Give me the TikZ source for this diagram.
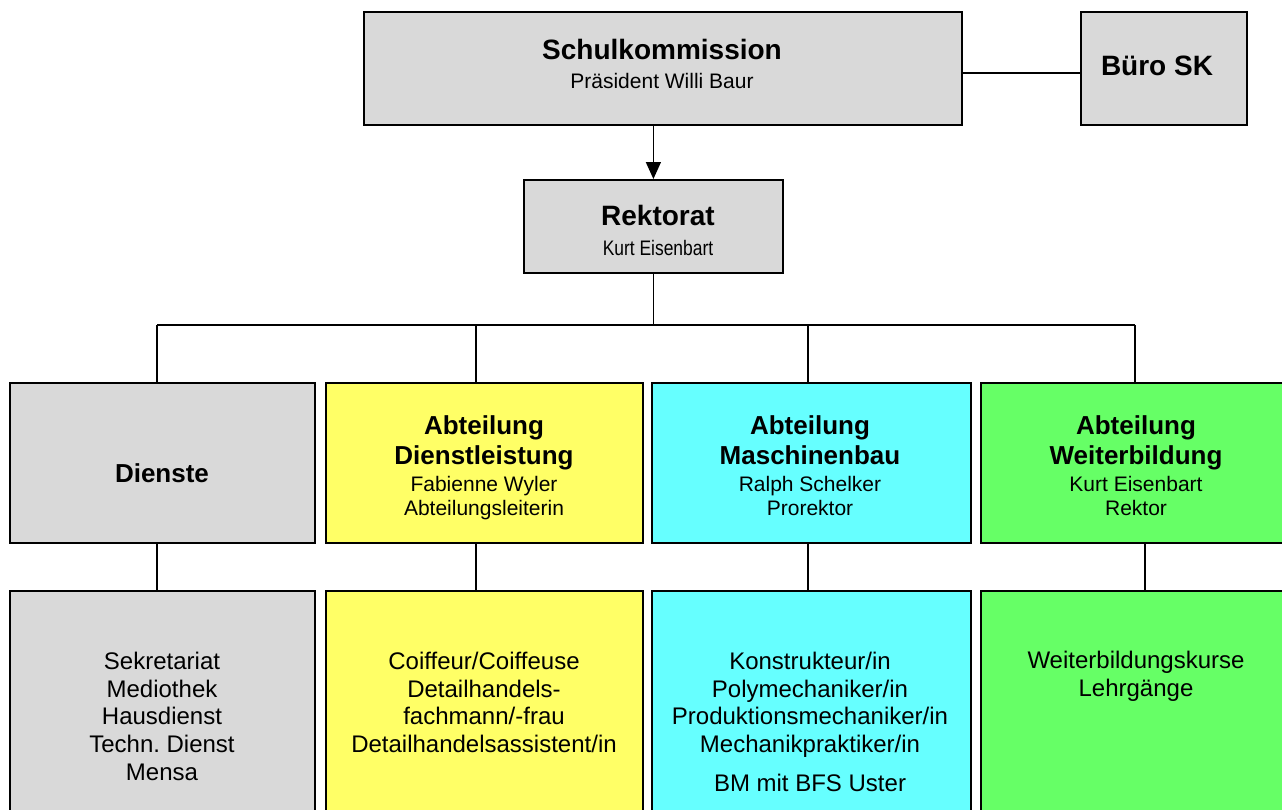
\documentclass[tikz,border=0pt]{standalone}
\usepackage{fontspec}
\setmainfont{Liberation Sans}
\newfontfamily\narrowsans[FakeStretch=0.83]{Liberation Sans}
\usetikzlibrary{arrows.meta}
\definecolor{boxgray}{HTML}{D9D9D9}
\definecolor{boxyellow}{HTML}{FFFF66}
\definecolor{boxcyan}{HTML}{66FFFF}
\definecolor{boxgreen}{HTML}{66FF66}
\begin{document}
\begin{tikzpicture}[x=1pt,y=-1pt,
  box/.style={draw=black,line width=1.8pt,inner sep=0pt,anchor=north west},
  link/.style={line width=1.5pt,black},
  txt/.style={anchor=base,inner sep=0pt,align=center},
  topbold/.style={txt,font=\fontsize{28}{30}\selectfont\bfseries},
  topreg/.style={txt,font=\fontsize{21}{23}\selectfont},
  narrowreg/.style={txt,font=\fontsize{21}{23}\selectfont\narrowsans},
  midbold/.style={txt,font=\fontsize{26}{28}\selectfont\bfseries},
  midreg/.style={txt,font=\fontsize{21}{23}\selectfont},
  lowreg/.style={txt,font=\fontsize{24}{26}\selectfont}]
\useasboundingbox (0,0) rectangle (1282,809);
\clip (0,0) rectangle (1282,809);
\fill[white] (0,0) rectangle (1282,809);

% top boxes
\node[box,fill=boxgray,minimum width=598pt,minimum height=113pt] (sk) at (363,11) {};
\node[box,fill=boxgray,minimum width=166pt,minimum height=113pt] (buero) at (1080,11) {};
\node[box,fill=boxgray,minimum width=259pt,minimum height=93pt] (rek) at (523,179) {};

% middle row
\node[box,fill=boxgray,minimum width=305pt,minimum height=160pt] (dienste) at (9,382) {};
\node[box,fill=boxyellow,minimum width=317pt,minimum height=160pt] (dl) at (325,382) {};
\node[box,fill=boxcyan,minimum width=319pt,minimum height=160pt] (mb) at (651,382) {};
\node[box,fill=boxgreen,minimum width=311pt,minimum height=160pt] (wb) at (980,382) {};

% bottom row
\node[box,fill=boxgray,minimum width=305pt,minimum height=240pt] (dienste2) at (9,590) {};
\node[box,fill=boxyellow,minimum width=317pt,minimum height=240pt] (dl2) at (325,590) {};
\node[box,fill=boxcyan,minimum width=319pt,minimum height=240pt] (mb2) at (651,590) {};
\node[box,fill=boxgreen,minimum width=311pt,minimum height=240pt] (wb2) at (980,590) {};

% connectors
\coordinate (skline) at (0,73);
\draw[link] (sk.east |- skline) -- (buero.west |- skline);
\draw[link,-{Triangle[width=15pt,length=17pt]}] (sk.south -| rek.north) -- (rek.north);
\coordinate (c1) at (157,325);
\coordinate (c2) at (476,325);
\coordinate (c3) at (808,325);
\coordinate (c4) at (1135,325);
\draw[link] (rek.south) -- (rek.south |- c1);
\draw[link] (c1) -- (c4);
\draw[link] (c1) -- (c1 |- dienste.north);
\draw[link] (c2) -- (c2 |- dl.north);
\draw[link] (c3) -- (c3 |- mb.north);
\draw[link] (c4) -- (c4 |- wb.north);
\coordinate (d1) at (157,566);
\coordinate (d2) at (476,566);
\coordinate (d3) at (808,566);
\coordinate (d4) at (1145,566);
\draw[link] (dienste.south -| d1) -- (dienste2.north -| d1);
\draw[link] (dl.south -| d2) -- (dl2.north -| d2);
\draw[link] (mb.south -| d3) -- (mb2.north -| d3);
\draw[link] (wb.south -| d4) -- (wb2.north -| d4);

% texts top
\node[topbold] (t1) at (662,59) {Schulkommission};
\node[topreg] (t2) at (662,88) {Präsident Willi Baur};
\node[topbold] (t3) at (1157,75) {Büro SK};
\node[topbold] (t4) at (658,225) {Rektorat};
\node[narrowreg] (t5) at (658,255) {Kurt Eisenbart};

% texts middle
\node[midbold] (m1) at (162,482) {Dienste};
\node[midbold] (m2) at (484,434) {Abteilung};
\node[midbold] (m3) at (484,464) {Dienstleistung};
\node[midreg] (m4) at (484,491) {Fabienne Wyler};
\node[midreg] (m5) at (484,515) {Abteilungsleiterin};
\node[midbold] (m6) at (810,434) {Abteilung};
\node[midbold] (m7) at (810,464) {Maschinenbau};
\node[midreg] (m8) at (810,491) {Ralph Schelker};
\node[midreg] (m9) at (810,515) {Prorektor};
\node[midbold] (m10) at (1136,434) {Abteilung};
\node[midbold] (m11) at (1136,464) {Weiterbildung};
\node[midreg] (m12) at (1136,491) {Kurt Eisenbart};
\node[midreg] (m13) at (1136,515) {Rektor};

% texts bottom
\node[lowreg] (b1) at (162,669) {Sekretariat};
\node[lowreg] (b2) at (162,697) {Mediothek};
\node[lowreg] (b3) at (162,724) {Hausdienst};
\node[lowreg] (b4) at (162,752) {Techn.\ Dienst};
\node[lowreg] (b5) at (162,780) {Mensa};
\node[lowreg] (b6) at (484,669) {Coiffeur/Coiffeuse};
\node[lowreg] (b7) at (484,697) {Detailhandels-};
\node[lowreg] (b8) at (484,724) {fachmann/-frau};
\node[lowreg] (b9) at (484,752) {Detailhandelsassistent/in};
\node[lowreg] (b10) at (810,669) {Konstrukteur/in};
\node[lowreg] (b11) at (810,697) {Polymechaniker/in};
\node[lowreg] (b12) at (810,724) {Produktionsmechaniker/in};
\node[lowreg] (b13) at (810,752) {Mechanikpraktiker/in};
\node[lowreg] (b14) at (810,791) {BM mit BFS Uster};
\node[lowreg] (b15) at (1136,668) {Weiterbildungskurse};
\node[lowreg] (b16) at (1136,696) {Lehrgänge};
\end{tikzpicture}
\end{document}
